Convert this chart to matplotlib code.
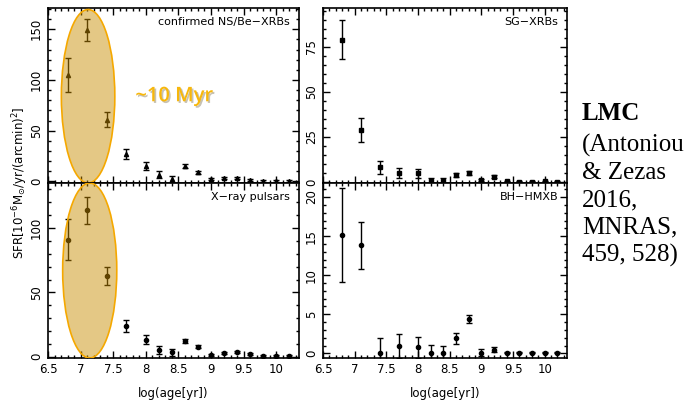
import numpy as np
import matplotlib
matplotlib.use("Agg")
import matplotlib.pyplot as plt
from matplotlib.patches import Ellipse
from matplotlib.ticker import MultipleLocator, FormatStrFormatter
import matplotlib.patheffects as pe

# log(age) bins
log_age = [6.8, 7.1, 7.4, 7.7, 8.0, 8.2, 8.4, 8.6, 8.8, 9.0, 9.2, 9.4, 9.6, 9.8, 10.0, 10.2]

# confirmed NS/Be-XRBs
be_sfr = [105, 149, 61, 27, 15, 6.5, 2.7, 15.5, 9, 2, 3, 3, 1, 0.5, 0.5, 0.5]
be_err = [17, 11, 7, 5, 4, 3.5, 3, 2, 1.5, 1, 1, 1, 1, 0.7, 0.7, 0.7]

# SG-XRBs
sg_sfr = [79, 29, 8.3, 5, 5, 0.5, 0.6, 4, 5.2, 1, 3.1, 0.4, 0.3, 0.3, 0.4, 0.3]
sg_err = [11, 6.5, 3.6, 2.8, 2.5, 1.8, 1.5, 1, 1, 0.6, 0.6, 0.4, 0.4, 0.4, 0.4, 0.4]

# X-ray pulsars
pul_sfr = [91, 114, 63, 24, 13, 5, 3.4, 12, 7.8, 1.5, 3.1, 3.6, 1.8, 0.5, 0.5, 0.5]
pul_err = [16, 10.5, 7, 4.7, 3.5, 3, 2.5, 1.5, 1, 0.8, 0.8, 0.8, 0.8, 0.6, 0.6, 0.6]

# BH-HMXB
bh_sfr = [15.1, 13.85, 0.1, 0.95, 0.8, 0.1, 0.1, 1.9, 4.4, 0.1, 0.45, 0.1, 0.1, 0.1, 0.1, 0.1]
bh_err = [6, 3, 1.9, 1.5, 1.35, 1.0, 0.9, 0.75, 0.55, 0.4, 0.3, 0.1, 0.1, 0.1, 0.1, 0.1]

fig = plt.figure(figsize=(6.93, 4.04), dpi=100)

W = 693.0
H = 404.0
def box(x0, y0, x1, y1):
    return [x0 / W, 1 - y1 / H, (x1 - x0) / W, (y1 - y0) / H]

ax1 = fig.add_axes(box(48, 8, 299, 183))
ax2 = fig.add_axes(box(323, 8, 567, 183))
ax3 = fig.add_axes(box(48, 183, 299, 358))
ax4 = fig.add_axes(box(323, 183, 567, 358))

panels = [
    (ax1, be_sfr, be_err, "^", "confirmed NS/Be\u2212XRBs", (-1.5, 171), 50, 10),
    (ax2, sg_sfr, sg_err, "s", "SG\u2212XRBs", (-0.5, 96.5), 25, 5),
    (ax3, pul_sfr, pul_err, "o", "X\u2212ray pulsars", (-1, 135), 50, 10),
    (ax4, bh_sfr, bh_err, "o", "BH\u2212HMXB", (-0.6, 21.8), 5, 1),
]

for ax, y, e, mk, name, ylim, major, minor in panels:
    ax.errorbar(log_age, y, yerr=e, fmt=mk, color="black", ms=3,
                elinewidth=1, capsize=2.2, capthick=1)
    ax.set_xlim(6.5, 10.35)
    ax.set_ylim(*ylim)
    ax.xaxis.set_major_locator(MultipleLocator(0.5))
    ax.xaxis.set_minor_locator(MultipleLocator(0.1))
    ax.xaxis.set_major_formatter(FormatStrFormatter("%g"))
    ax.yaxis.set_major_locator(MultipleLocator(major))
    ax.yaxis.set_minor_locator(MultipleLocator(minor))
    ax.tick_params(which="both", direction="in", top=True, right=True,
                   labelsize=8.5, width=1)
    ax.tick_params(which="major", length=5)
    ax.tick_params(which="minor", length=2.5)
    ax.tick_params(axis="y", labelrotation=90)
    for lab in ax.get_yticklabels():
        lab.set_va("center")
    for s in ax.spines.values():
        s.set_linewidth(1.2)
    ax.text(0.965, 0.92, name, transform=ax.transAxes, ha="right",
            va="center", fontsize=8)

for ax in (ax1, ax2):
    ax.tick_params(labelbottom=False)
for ax in (ax3, ax4):
    ax.set_xlabel("log(age[yr])", fontsize=8.5, labelpad=8)

# highlight around 10 Myr
ax1.add_patch(Ellipse((7.115, 84), 0.82, 171, facecolor="#C78D01", alpha=0.48,
                      edgecolor="none", zorder=5))
ax1.add_patch(Ellipse((7.115, 84), 0.82, 171, facecolor="none",
                      edgecolor="#F5A800", lw=1.2, zorder=6))
ax3.add_patch(Ellipse((7.14, 67), 0.83, 136, facecolor="#C78D01", alpha=0.48,
                      edgecolor="none", zorder=5))
ax3.add_patch(Ellipse((7.14, 67), 0.83, 136, facecolor="none",
                      edgecolor="#F5A800", lw=1.2, zorder=6))

ax1.text(7.84, 84, "~10 Myr", color="#F7B70C", fontsize=14.5, fontweight="semibold",
         family="Open Sans", va="center", ha="left",
         path_effects=[pe.SimplePatchShadow(offset=(1.2, -1.2), alpha=0.3),
                       pe.Normal()])

fig.text(20 / W, 1 - 183 / H,
         "SFR[10$^{-6}$M$_{\\odot}$/yr/(arcmin)$^{2}$]",
         rotation=90, ha="center", va="center", fontsize=8.5)

fig.text(582 / W, 1 - 114 / H, "LMC", family="Liberation Serif",
         fontweight="bold", fontsize=18, va="center", ha="left")
fig.text(582 / W, 1 - 134 / H,
         "(Antoniou\n& Zezas\n2016,\nMNRAS,\n459, 528)",
         family="Liberation Serif", fontsize=18, va="top", ha="left",
         linespacing=1.3)

fig.savefig("out.png", dpi=100)
